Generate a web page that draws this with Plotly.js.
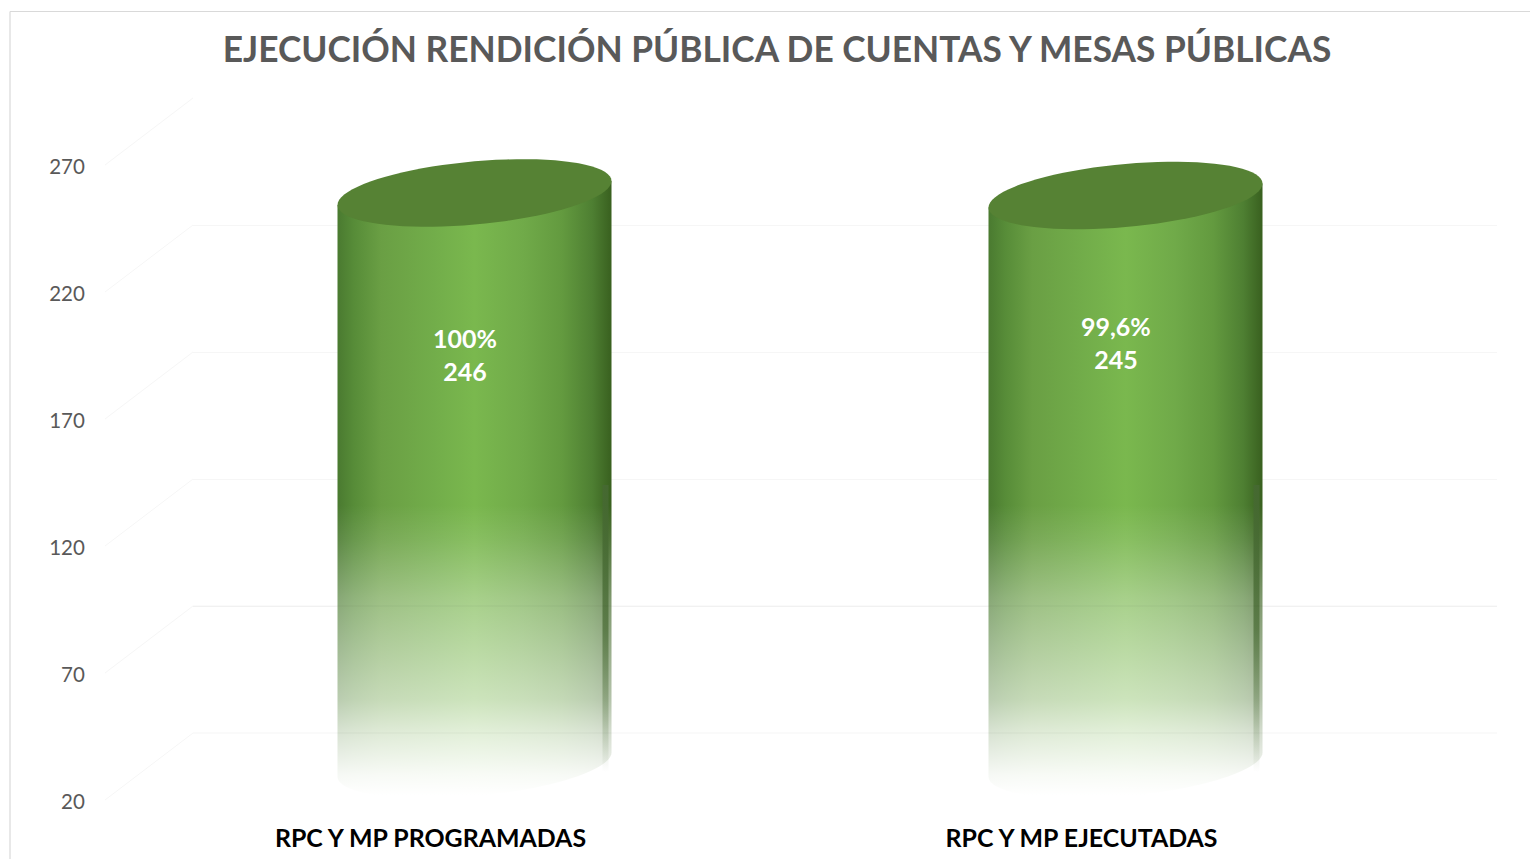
<!DOCTYPE html>
<html><head><meta charset="utf-8">
<script src="https://cdn.plot.ly/plotly-3.0.1.min.js"></script>
<style>html,body{margin:0;padding:0;background:#fff;overflow:hidden}#c{width:1530px;height:859px}</style>
</head><body><div id="c"></div>
<script>
// ---- data ----
const categories = ["RPC Y MP PROGRAMADAS", "RPC Y MP EJECUTADAS"];
const valores = [246, 245];
const porcentajes = ["100%", "99,6%"];
const yTicks = [20, 70, 120, 170, 220, 270];
const titulo = "EJECUCIÓN RENDICIÓN PÚBLICA DE CUENTAS Y MESAS PÚBLICAS";

// ---- layout geometry ----
const W = 1530, H = 859, FONT = "Lato, Carlito, Calibri, sans-serif";
const px = x => x / W, py = y => 1 - y / H;
const PXU = 2.54;                 // pixels per value unit
const front = {l:105, r:1407, b:800}, back = {l:193, r:1497, b:733};
const mid = {l:149, r:1451, b:767};
const midMin = 0, midMax = 280;
const hw = 137 / 651, capB = 31.6 / PXU, capSkew = 12 / PXU;
const valAtPx = y => 20 + (mid.b - y) / PXU;
const labelPx = [354.5, 342.5];
const tickDrop = 2;               // the tick labels sit this many pixels under their floor-line start
const gridCol = "#f6f6f6";

const bodyColors = [[0,"#4a7a30"],[0.06,"#578c38"],[0.16,"#6a9f44"],[0.35,"#72ad4a"],[0.5,"#7ab84e"],
                    [0.68,"#70aa49"],[0.82,"#639a3f"],[0.93,"#4e7f32"],[1,"#39601f"]];
const fadeColors = [[0,"rgba(255,255,255,1)"],[0.07,"rgba(255,255,255,0.95)"],[0.22,"rgba(255,255,255,0.78)"],
                    [0.33,"rgba(255,255,255,0.62)"],[0.68,"rgba(255,255,255,0.34)"],[0.88,"rgba(255,255,255,0.11)"],[1,"rgba(255,255,255,0)"]];
const streakColors = [[0,"rgba(70,105,50,0)"],[0.15,"rgba(70,105,50,0.2)"],[0.5,"rgba(70,105,50,0.7)"],[1,"rgba(70,105,50,0.9)"]];

function ring(cx, cy, from, to, n, grow){
  const xs = [], ys = [], g = grow || 0;
  for (let i = 0; i <= n; i++){
    const t = from + (to - from) * i / n;
    xs.push(cx + (hw + g) * Math.cos(t));
    ys.push(cy + capB * Math.sin(t) + capSkew * Math.cos(t));
  }
  return {xs, ys};
}
function body(cx, topV, bottomV, grow){
  const g = grow || 0;
  const arc = ring(cx, bottomV, Math.PI, 2 * Math.PI, 60, g); // bottom arc, left tip to right tip
  return {
    x: [cx - hw - g, ...arc.xs, cx + hw + g, cx - hw - g],
    y: [topV - capSkew, ...arc.ys, topV + capSkew, topV - capSkew]
  };
}
const traces = [], annotations = [];
const base = {type:"scatter", mode:"none", fill:"toself", xaxis:"x3", yaxis:"y3", hoverinfo:"skip", showlegend:false};
// invisible carriers that keep the tick-label axes and the back-wall grid alive
traces.push({type:"scatter", mode:"markers", marker:{opacity:0}, x:[0, 1], y:valores, xaxis:"x", yaxis:"y", hoverinfo:"skip", showlegend:false});
traces.push({type:"scatter", mode:"markers", marker:{opacity:0}, x:[0, 1], y:valores, xaxis:"x2", yaxis:"y2", hoverinfo:"skip", showlegend:false});
valores.forEach((v, i) => {
  const b = body(i, v, 21);
  traces.push({...base, x:b.x, y:b.y,
    fillgradient:{type:"horizontal", colorscale:bodyColors, start:i - hw, stop:i + hw}});
  const f = body(i, valAtPx(485), 19, 2 / 651);
  traces.push({...base, x:f.x, y:f.y,
    fillgradient:{type:"vertical", colorscale:fadeColors, start:valAtPx(795), stop:valAtPx(505)}});
  const sx0 = i + 128 / 651, sx1 = i + 134 / 651;
  traces.push({...base, x:[sx0, sx1, sx1, sx0, sx0], y:[valAtPx(485), valAtPx(485), valAtPx(772), valAtPx(772), valAtPx(485)],
    fillgradient:{type:"vertical", colorscale:streakColors, start:valAtPx(772), stop:valAtPx(485)}});
  const c = ring(i, v, 0, 2 * Math.PI, 80);
  traces.push({...base, x:c.xs, y:c.ys, fillcolor:"#568234"});
  annotations.push({xref:"x3", yref:"paper", x:i, y:py(labelPx[i]), xshift:-10, showarrow:false, align:"center",
    text: porcentajes[i] + "<br>" + v,
    font:{family:FONT, size:25, color:"#ffffff", weight:700}});
});

// ---- grid, floor lines, frame ----
const yP = v => py(front.b - (v - 20) * PXU);
const shapes = [];
yTicks.forEach(v => {
  shapes.push({type:"line", xref:"paper", yref:"paper", layer:"below",
    x0:px(front.l), x1:px(back.l), y0:yP(v), y1:yP(v) + 67 / H, line:{color:gridCol, width:1}});
  if (v <= 70) shapes.push({type:"line", xref:"paper", yref:"paper", layer:"above",
    x0:px(back.l), x1:px(back.r), y0:yP(v) + 67 / H, y1:yP(v) + 67 / H, line:{color:"rgba(0,0,0,0.04)", width:1}});
});
shapes.push({type:"line", xref:"paper", yref:"paper", x0:px(10), x1:1, y0:py(11.5), y1:py(11.5), line:{color:"#d9d9d9", width:1.2}});
shapes.push({type:"line", xref:"paper", yref:"paper", x0:px(10), x1:px(10), y0:py(11.5), y1:0, line:{color:"#d9d9d9", width:1.2}});

const layout = {
  width:W, height:H, margin:{l:0, r:0, t:0, b:0}, showlegend:false,
  paper_bgcolor:"#ffffff", plot_bgcolor:"rgba(0,0,0,0)", hovermode:false,
  font:{family:FONT},
  title:{text:titulo, x:777/W, xanchor:"center", y:py(49.5), yanchor:"middle",
         font:{family:FONT, size:35.3, color:"#595959", weight:700}},
  xaxis:{domain:[px(front.l), px(front.r)], range:[-0.5, 1.5], anchor:"y", tickmode:"array", tickvals:[0, 1], ticktext:categories,
         showgrid:false, zeroline:false, showline:false, ticks:"outside", ticklen:14, tickcolor:"rgba(0,0,0,0)",
         tickfont:{family:FONT, size:24.9, color:"#000000", weight:700}, automargin:false, tickangle:0},
  yaxis:{domain:[py(front.b + tickDrop), yP(270) - tickDrop / H], range:[20, 270], anchor:"x", tickmode:"array", tickvals:yTicks, ticktext:yTicks.map(String),
         showgrid:false, zeroline:false, showline:false, ticks:"outside", ticklen:15, tickcolor:"rgba(0,0,0,0)",
         tickfont:{family:FONT, size:20.5, color:"#595959"}, automargin:false},
  xaxis2:{domain:[px(back.l), px(back.r)], range:[-0.5, 1.5], anchor:"y2", visible:false},
  yaxis2:{domain:[py(back.b), yP(270) + 67 / H], range:[20, 270], anchor:"x2", tickmode:"array", tickvals:yTicks,
          showgrid:true, gridcolor:gridCol, gridwidth:1, zeroline:false, showline:false, ticks:"", showticklabels:false},
  xaxis3:{domain:[px(mid.l), px(mid.r)], range:[-0.5, 1.5], anchor:"y3", visible:false},
  yaxis3:{domain:[py(mid.b + 20 * PXU), py(mid.b - (midMax - 20) * PXU)], range:[midMin, midMax], anchor:"x3", visible:false},
  shapes, annotations
};
Plotly.newPlot("c", traces, layout, {displayModeBar:false, staticPlot:true});
</script></body></html>
